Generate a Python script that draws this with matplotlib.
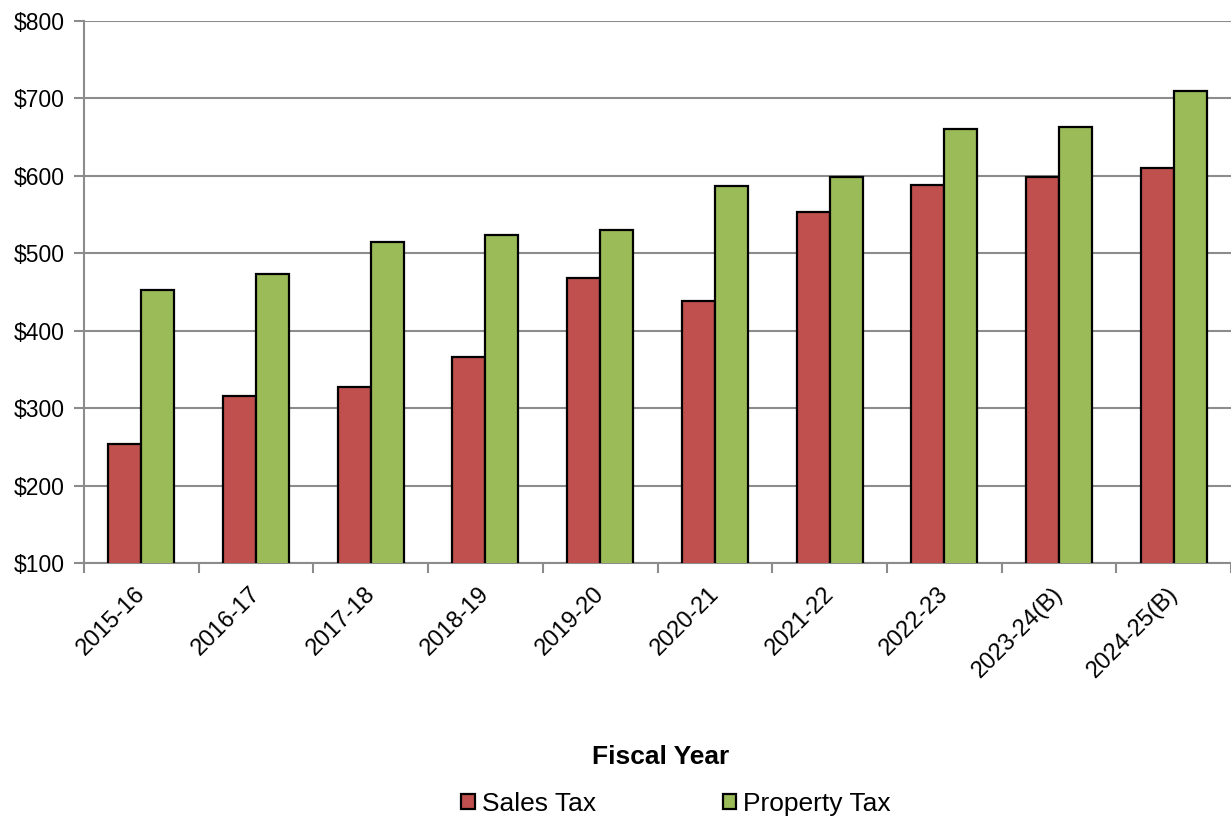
import numpy as np
import matplotlib
matplotlib.use('Agg')
import matplotlib.pyplot as plt
import matplotlib.transforms as mtransforms
from matplotlib.ticker import FuncFormatter, MultipleLocator

plt.rcParams['font.family'] = ['Liberation Sans', 'DejaVu Sans']

years = ['2015-16', '2016-17', '2017-18', '2018-19', '2019-20',
         '2020-21', '2021-22', '2022-23', '2023-24(B)', '2024-25(B)']
sales_tax = [254, 316, 327, 366, 468, 438, 553, 588, 599, 610]
property_tax = [453, 473, 515, 523, 530, 587, 598, 661, 663, 710]

grid_grey = '#8c8c8c'

fig = plt.figure(figsize=(12.31, 8.17), dpi=100)
ax = fig.add_axes([84 / 1231, 1 - 563 / 817, 1 - 84 / 1231, (563 - 21) / 817])

x = np.arange(len(years))
width = 0.2875
ax.bar(x - width / 2, sales_tax, width, bottom=0, color='#C0504D',
       edgecolor='black', linewidth=1.6, label='Sales Tax', zorder=3)
ax.bar(x + width / 2, property_tax, width, bottom=0, color='#9BBB59',
       edgecolor='black', linewidth=1.6, label='Property Tax', zorder=3)

ax.set_ylim(100, 800)
ax.set_xlim(-0.5, len(years) - 0.5)
ax.yaxis.set_major_locator(MultipleLocator(100))
ax.yaxis.set_major_formatter(FuncFormatter(lambda v, p: '${:,.0f}'.format(v)))
ax.grid(axis='y', color=grid_grey, linewidth=1.5, zorder=0)

# category ticks sit on the group boundaries, labels on the group centres
ax.set_xticks(np.arange(len(years) + 1) - 0.5)
ax.set_xticklabels([])
ax.set_xticks(x, minor=True)
ax.set_xticklabels(years, minor=True, rotation=45, ha='right', va='top',
                   rotation_mode='anchor', fontsize=17)
ax.tick_params(axis='x', which='minor', length=0, pad=14)
ax.tick_params(axis='x', which='major', length=7, width=1.5, color=grid_grey)
ax.tick_params(axis='y', length=7, width=1.5, color=grid_grey, labelsize=16.5, pad=7)

# nudge the slanted year labels a little to the left
shift = mtransforms.ScaledTranslation(-7 / 100, 0, fig.dpi_scale_trans)
for lbl in ax.get_xticklabels(minor=True):
    lbl.set_transform(lbl.get_transform() + shift)

for side in ['top', 'right']:
    ax.spines[side].set_visible(False)
for side in ['left', 'bottom']:
    ax.spines[side].set_color(grid_grey)
    ax.spines[side].set_linewidth(1.5)

fig.text(661 / 1231, 1 - 757 / 817, 'Fiscal Year', ha='center', va='center',
         fontsize=19, fontweight='bold')

fig.legend(loc='center', bbox_to_anchor=(676 / 1231, 1 - 804 / 817), ncol=2,
           frameon=False, fontsize=19, handlelength=0.5, handleheight=0.5,
           handletextpad=0.27, columnspacing=4.8, borderaxespad=0)

fig.savefig('out.png', dpi=100)
